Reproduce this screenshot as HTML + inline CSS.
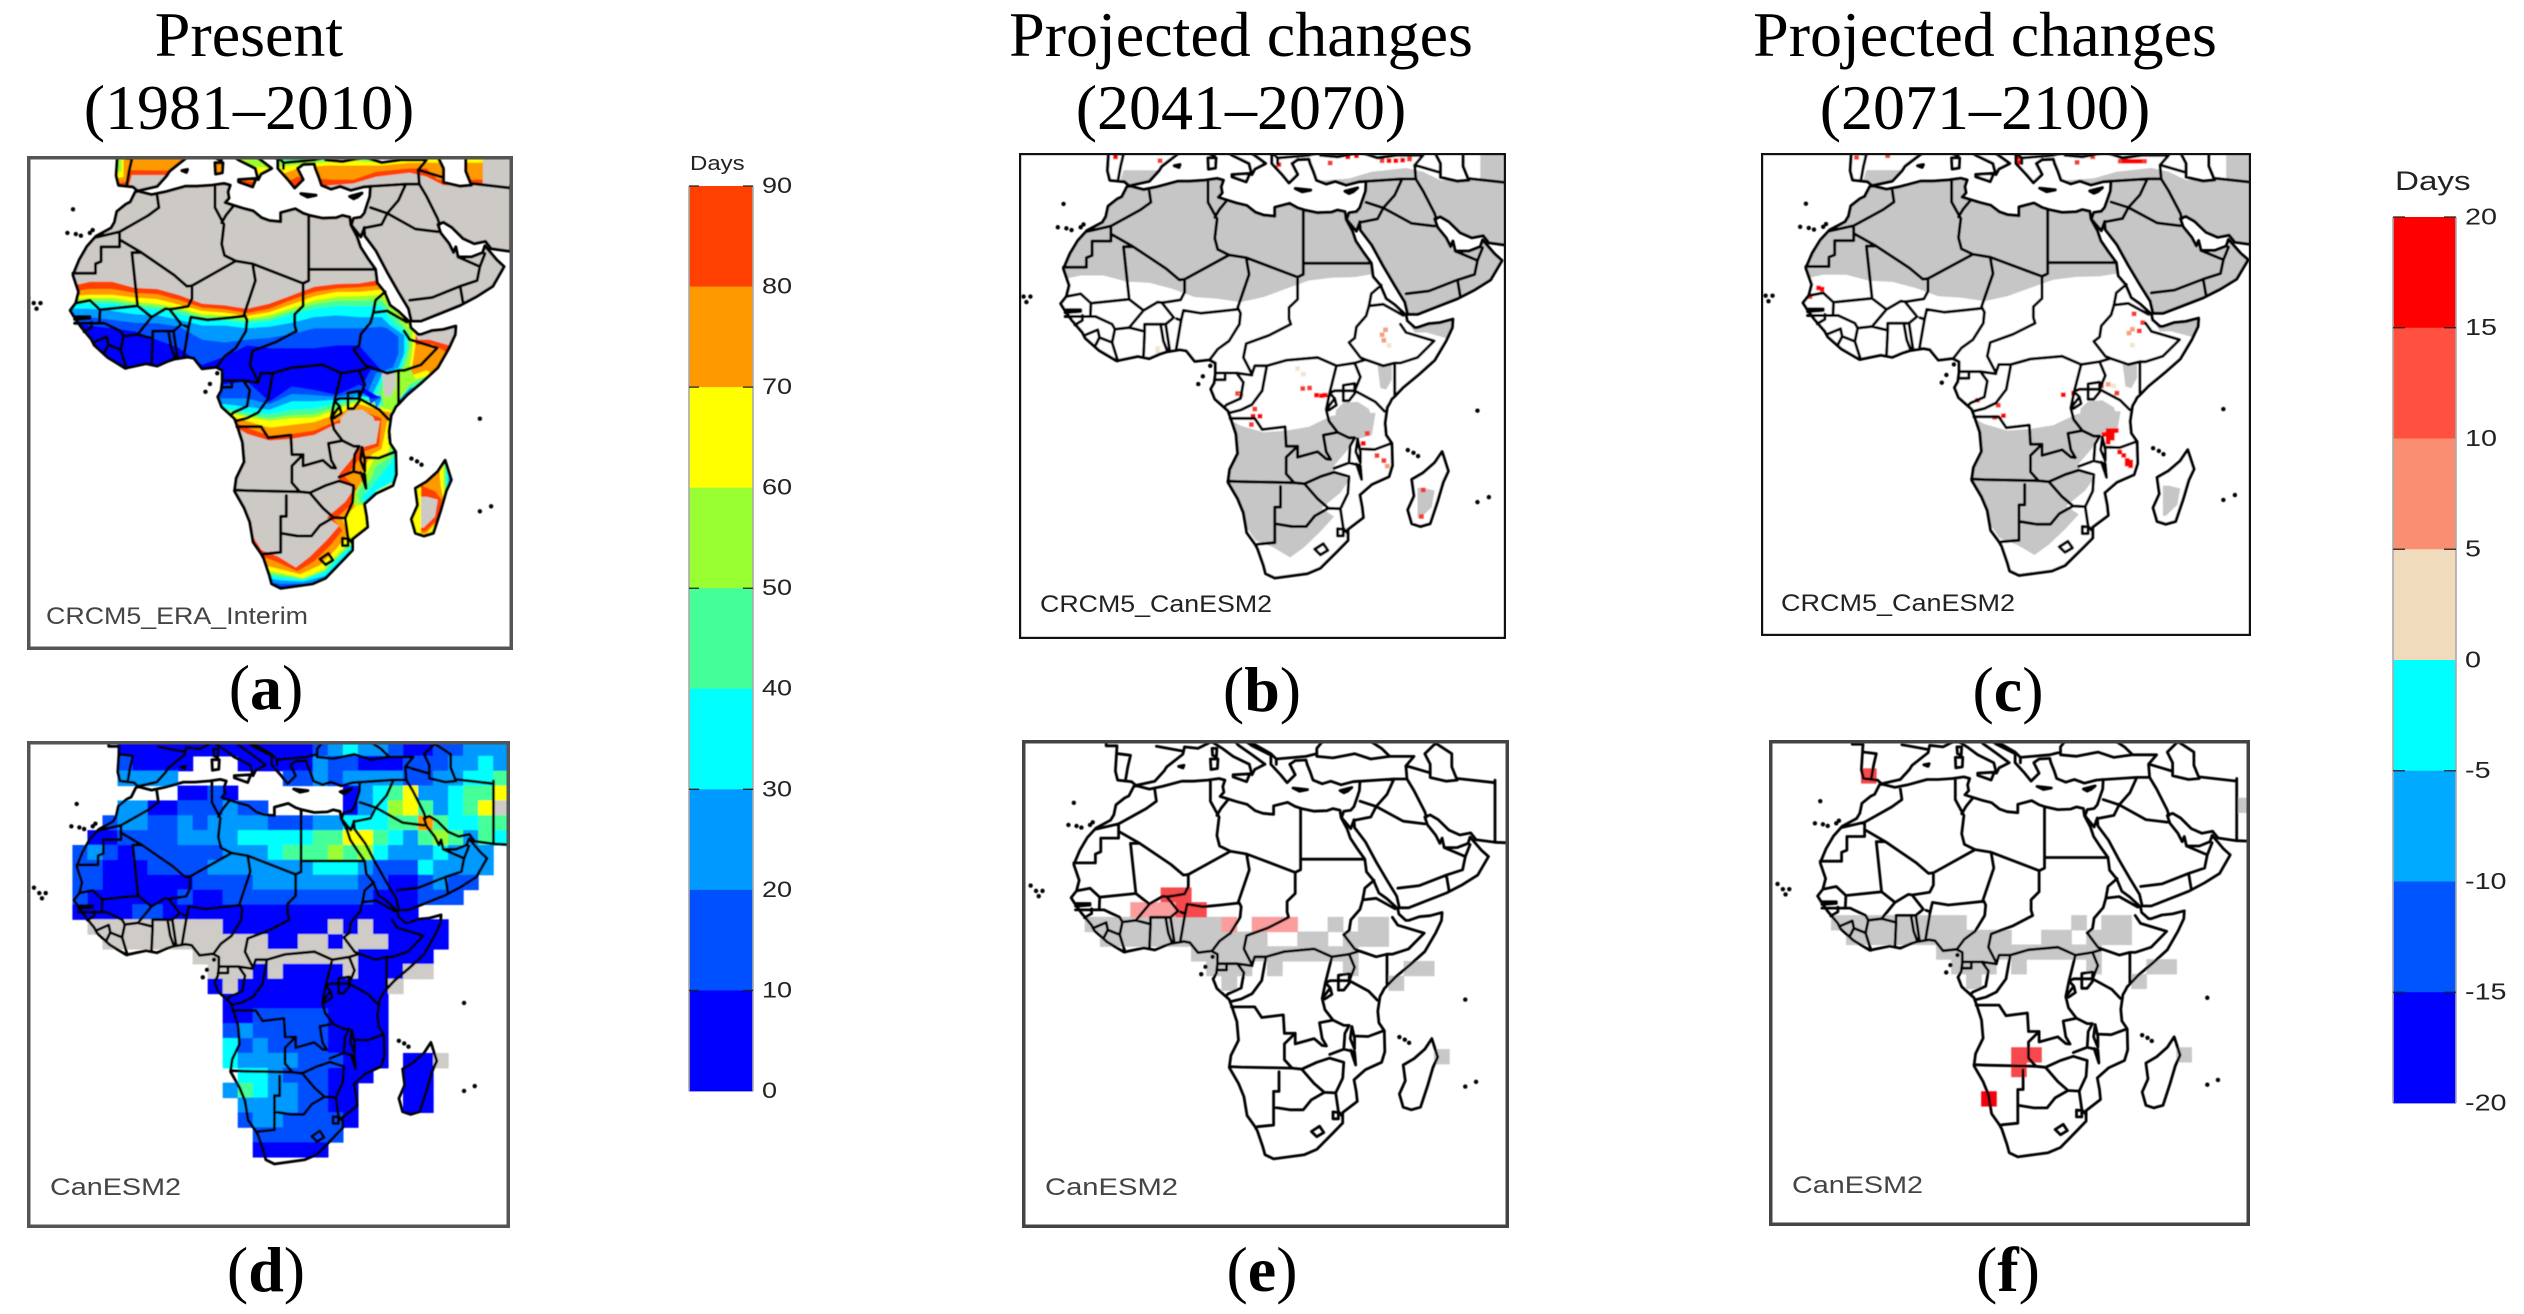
<!DOCTYPE html>
<html lang="en">
<head>
<meta charset="utf-8">
<title>Projected changes in days across Africa</title>
<style>
html,body{margin:0;padding:0;background:#fff;}
#figure{display:block;width:2524px;height:1314px;background:#fff;}
.head{font-family:"Liberation Serif",serif;font-size:64px;fill:#000;text-anchor:middle;}
.tag{font-family:"Liberation Serif",serif;font-size:64px;fill:#000;text-anchor:middle;}
.tag tspan{font-weight:bold;}
.model{font-family:"Liberation Sans",sans-serif;font-size:24px;}
.unit,.tick{font-family:"Liberation Sans",sans-serif;fill:#222;}
</style>
</head>
<body>
<svg id="figure" xmlns="http://www.w3.org/2000/svg" width="2524" height="1314" viewBox="0 0 2524 1314">
  <g id="maps"></g>
  <g id="bars"></g>
  <g>
    <text class="head" x="249" y="56">Present</text>
    <text class="head" x="249" y="129">(1981–2010)</text>
    <text class="head" x="1241" y="56">Projected changes</text>
    <text class="head" x="1241" y="129">(2041–2070)</text>
    <text class="head" x="1985" y="56">Projected changes</text>
    <text class="head" x="1985" y="129">(2071–2100)</text>
  </g>
  <g>
    <text class="tag" x="266" y="709">(<tspan>a</tspan>)</text>
    <text class="tag" x="1262" y="711">(<tspan>b</tspan>)</text>
    <text class="tag" x="2008" y="711">(<tspan>c</tspan>)</text>
    <text class="tag" x="266" y="1291">(<tspan>d</tspan>)</text>
    <text class="tag" x="1262" y="1291">(<tspan>e</tspan>)</text>
    <text class="tag" x="2008" y="1291">(<tspan>f</tspan>)</text>
  </g>
  <g>
    <text class="model" x="46" y="624" textLength="262" lengthAdjust="spacingAndGlyphs" fill="#444">CRCM5_ERA_Interim</text>
    <text class="model" x="1040" y="612" textLength="232" lengthAdjust="spacingAndGlyphs" fill="#222">CRCM5_CanESM2</text>
    <text class="model" x="1781" y="611" textLength="234" lengthAdjust="spacingAndGlyphs" fill="#222">CRCM5_CanESM2</text>
    <text class="model" x="50" y="1195" textLength="131" lengthAdjust="spacingAndGlyphs" fill="#444">CanESM2</text>
    <text class="model" x="1045" y="1195" textLength="133" lengthAdjust="spacingAndGlyphs" fill="#444">CanESM2</text>
    <text class="model" x="1792" y="1193" textLength="131" lengthAdjust="spacingAndGlyphs" fill="#444">CanESM2</text>
  </g>
</svg>
<script>
/* ---------- colour-bar data ---------- */
const daysTickLabels = ["90","80","70","60","50","40","30","20","10","0"];
const daysTickValues = [90,80,70,60,50,40,30,20,10,0];
const daysBandColors = ["#ff4000","#ff9900","#ffff00","#99ff33","#44ff99","#00ffff","#0099ff","#0050ff","#0000ff"];
const changeTickLabels = ["20","15","10","5","0","-5","-10","-15","-20"];
const changeTickValues = [20,15,10,5,0,-5,-10,-15,-20];
const changeBandColors = ["#ff0000","#ff5040","#fa8e72","#f0dcbc","#00ffff","#00aaff","#0055ff","#0000ff"];

/* ---------- geography (longitude / latitude in degrees) ---------- */
const africaCoast = [[-5.9,35.8],[-5.3,35.9],[-3,35.3],[-0.6,35.8],[3,36.8],[5.1,36.8],[7.8,37],[9.9,37.3],[11,37],[10.6,35.8],[10.8,34.7],[10.1,33.9],[11,33.6],[13.2,32.9],[15.1,32.4],[16.6,31.2],[18,30.7],[20,30.5],[20,32.1],[22.6,32.8],[24,32],[25.2,31.6],[27.5,31.1],[29.9,31.2],[31,31.6],[32.3,31.3],[32.5,29.9],[33.6,27.8],[34.2,26],[35.5,24],[36.9,22],[37.2,19.6],[38.5,18],[39.5,15.6],[41,14.5],[43,12.6],[43.2,11.6],[44.5,10.4],[45,10.4],[47,11.1],[49,11.3],[51.2,11.9],[51.1,10.4],[50,8],[48,4.5],[45.3,2],[42.5,-0.4],[41,-2],[40.5,-2.5],[40.1,-3.3],[39.7,-4],[39.3,-6.8],[39.5,-9],[40.5,-10.5],[40.6,-14.5],[40,-16.5],[37,-17.9],[34.9,-19.8],[35.3,-22],[35.5,-23.9],[32.8,-26],[32.8,-28],[31,-29.9],[28,-33],[25.7,-34],[20,-34.8],[18.4,-34],[18,-32.5],[17,-29.5],[16.5,-28.6],[15.1,-26.6],[14.5,-23],[13.5,-20.5],[11.8,-17.5],[12.1,-15.2],[13.5,-12.3],[13.2,-8.8],[12.3,-6],[11.8,-4.6],[9.5,-2.5],[8.8,-0.7],[9.4,0.4],[9.6,2],[9.6,4],[8.5,4.6],[6,4.3],[4.5,6.2],[3.4,6.4],[1,6],[-0.2,5.6],[-2,4.8],[-4,5.2],[-7.7,4.4],[-10.8,6.3],[-13.2,8.5],[-13.7,9.5],[-15.6,11.8],[-16.7,13.4],[-17.5,14.7],[-16.5,16],[-16,18],[-17,21],[-15.9,23.7],[-14.5,26.1],[-12.9,27.9],[-10.2,29.4],[-9.6,30.4],[-9.2,32.3],[-7.6,33.6],[-6.8,34]];
const madagascarCoast = [[49.3,-12],[50.4,-15.5],[49.5,-17.5],[48.5,-21],[47.2,-25],[45.5,-25.5],[44,-25],[43.3,-22.5],[44.4,-20],[44,-17],[46,-15.8],[48,-14]];
const eurasiaCoast = [[-9,43.5],[-9.3,38.7],[-8.9,37],[-6.3,36.7],[-5.5,36],[-2,36.8],[-0.3,38.7],[0.2,39.5],[3.2,41.9],[3.5,43.3],[6,43],[8.5,44.3],[10.5,43],[12.5,41.5],[15.5,40],[16,38],[16.5,39],[18.4,40],[16,41.8],[13.5,43.6],[12.3,45],[14,45],[16,43.5],[19.5,41.7],[19.5,40],[21.3,38],[22.5,36.5],[24,38],[23,40],[24,40.7],[26,40.8],[26.2,40],[26.8,38.5],[27.3,37],[29,36.3],[30.6,36.8],[32.5,36.1],[34.7,36.7],[36,36.8],[35.9,35],[35.5,33.8],[34.9,32],[34.3,31.3],[33,31.1],[32.6,29.9],[34.3,27.8],[34.9,29.5],[35,28],[37,25.3],[39,21.5],[41,18],[42.8,15],[43.3,12.8],[45,12.8],[48,14],[52,15.6],[55,17.2],[57.8,19],[59.8,22.5],[58.5,23.7],[56.4,26.2],[56,25],[54,24.2],[51.6,24.2],[51.2,26],[50.8,25],[50,26.6],[48.5,28.5],[48,30],[49,30.4],[50.5,29.5],[52.5,27.5],[54.5,26.6],[56.5,27],[57.5,25.7],[61,25.2],[66,25],[66,48],[-11,48],[-11,43.5]];
const blackSea = [[28,41.5],[31,41.2],[35,42],[38,41],[41.5,41.5],[40,43],[37,45],[33,45],[30,45.5],[28,43]];
const caspianSea = [[49,37.5],[52,36.8],[54,37],[53,39.5],[53,42],[50,44],[48,42],[49,40]];
const smallIslands = [
  [[12.5,38],[15.6,38.2],[15,36.7],[12.5,37.6]],
  [[8.3,41],[9.7,41],[9.6,39.2],[8.4,39]],
  [[8.6,43],[9.5,43],[9.4,41.4],[8.7,41.7]],
  [[23.6,35.5],[26.3,35.2],[24.8,34.9]],
  [[32.3,35],[34.5,35.6],[33.7,34.9],[33,34.6]],
  [[2.4,39.6],[3.4,39.8],[3.2,39.3]]
];
const islandDotLons = [-18,-16.5,-15.6,-14,-13.5,-25,-24,-23.5,-22.8,-17,43.3,44.3,45.1,57.5,55.5,55.5,6.6,7.4,8.7];
const islandDotLats = [28.5,28.3,28,28.5,29,17,16,15,16,32.7,-11.7,-12.2,-12.8,-20.2,-21.1,-4.6,0.2,1.6,3.5];
const borderLines = [
  [[-2,35.1],[-1.7,33],[-3.6,31.6],[-8.7,28.7],[-13,27.7]],
  [[-8.7,28.7],[-8.7,26],[-12,26],[-12,23.4],[-13,23],[-13,21.3],[-17,21.3]],
  [[-8.7,27.3],[-4.8,25],[-6.5,25],[-5.5,15.5],[-12.2,14.8],[-14,16.5],[-16.5,16]],
  [[-8.7,27.3],[-4.8,25],[1,21],[3.3,19],[4.2,19.1],[4.2,16.8],[3.5,15.4],[1,15],[0.2,14.9],[2.3,12.2],[0.9,11],[0,11],[-2.8,11],[-2.8,9.7],[-5.5,10.4],[-8,10.1],[-8.5,7.7],[-7.5,4.4]],
  [[4.2,19.1],[12,23.5],[15,23],[24,19.5],[24,15.5],[22.5,14],[22.5,12],[22.8,11],[19,9],[15,7.5],[14.5,5],[16,2],[16.5,3.5],[18.6,3.5],[22,4.5],[27.5,5],[30.8,3.5],[34,4],[35.9,4.6],[39,3.5],[41,4],[41,-1.7]],
  [[12,23.5],[10,24.5],[9.5,26.5],[9.9,30],[8.3,33],[8.3,36.9]],
  [[11.5,33.2],[10.3,31.7],[9.5,30.3]],
  [[25,31.6],[25,22],[36.9,22]],
  [[25,22],[25,20],[24,19.5]],
  [[15,23],[15.5,20],[13.5,14],[14,13],[13.8,11],[12,8],[10,6.5],[8.6,4.6]],
  [[2.8,12],[3.6,11.7],[4,13.5],[7,13],[10,13.3],[13.6,13.7]],
  [[-5.5,15.5],[-3,13.5],[-0.5,15],[0.2,14.9]],
  [[-5.5,10.4],[-3,13.5]],
  [[3.6,11.7],[2.7,6.3]],
  [[0.9,11],[1.6,6.3]],
  [[0,11],[0.5,8],[1.2,6.1]],
  [[-2.8,9.7],[-3,5.1]],
  [[-16.7,12.4],[-12.3,12.4],[-12.2,14.8]],
  [[-12.3,12.4],[-11.4,12.4],[-8.5,11],[-8,10.1]],
  [[-16.7,13.6],[-14,13.6],[-14,13.3],[-16.7,13.1]],
  [[-13.7,12.6],[-13.7,11.7],[-15,10.9]],
  [[-13.3,9],[-11,10],[-10.7,8.6],[-11.5,7]],
  [[-10.7,8.6],[-8.5,7.7]],
  [[9.8,2.2],[13.3,2.2],[16,1.8]],
  [[11.3,2.2],[11.3,1],[9.6,1]],
  [[13.3,2.2],[14.5,0.5],[14,-2.4],[11.6,-3.5],[11.2,-3.9]],
  [[18.6,3.5],[17.8,-1],[16,-3.5],[14,-4.5],[12,-5]],
  [[38.6,18],[36.9,16.5],[36.5,14.3],[36,12.5],[34.3,10.5],[34,8.5],[33,7.7],[35,5],[35.9,4.6]],
  [[36.5,14.3],[39,14.6],[42.5,12.6]],
  [[42,11],[43,9.5],[47.9,8],[45,5],[42,4],[41,4]],
  [[34,4],[35,1.5],[34,-1],[37.6,-3],[39.2,-4.7]],
  [[30.8,3.5],[29.6,-1.4],[29,-4.4],[29.5,-6.5],[31,-8.5],[33,-9.5],[34,-9.5],[33.2,-11],[33,-14],[35,-14.5],[35.2,-17],[34.3,-14.2]],
  [[29,-4.4],[30.5,-2.4],[29.6,-1.4],[30.5,-1],[34,-1]],
  [[30.5,-2.4],[30.8,-3.6],[29.5,-4.5]],
  [[22,-11],[24,-11],[24,-13],[27.5,-12],[29,-13.3],[29.8,-13.4],[29,-12],[28.5,-9],[31,-8.5]],
  [[12.2,-6],[16.5,-6],[17.8,-8],[21.8,-7.5],[22,-11]],
  [[24,-11],[22,-13],[22,-16],[23.4,-17.6]],
  [[11.8,-17.3],[14,-17.4],[23.4,-17.6],[25.2,-17.8],[28,-16.5],[30.4,-15.7],[33,-16.5],[32.8,-19.5],[31.5,-22.3],[32,-25.8],[32.8,-26.8]],
  [[21,-18.3],[21,-22],[20,-22],[20,-28.4],[17,-28.7]],
  [[20,-25],[23,-25.5],[25.5,-25.5],[27,-23.6],[29.4,-22.2],[31.5,-22.3]],
  [[25.2,-17.8],[27.5,-20.5],[29.4,-22.2]],
  [[30.4,-15],[33,-14]],
  [[34.9,-11.5],[37.5,-11.6],[40.4,-10.5]],
  [[34.5,-9.7],[34.2,-12],[35,-14],[35,-12],[34.5,-9.7]],
  [[27,-29.6],[28.5,-28.6],[29.3,-29.8],[28,-30.6],[27,-29.6]],
  [[31,-25.9],[32,-26],[32,-27.2],[31,-27.2],[31,-25.9]],
  [[32,-2.8],[32,0],[34,0.3],[34,-1.5],[33,-2.8],[32,-2.8]],
  [[35,29.4],[38,30],[39,32],[36,33]],
  [[39,32],[44,29.2],[48,28.7]],
  [[36.2,36.8],[42.3,37.2],[41,34.3],[39,32]],
  [[44.5,39.7],[44.7,37.2],[46,35],[48,31],[48.3,30]],
  [[42.3,37.2],[44.7,37.2]],
  [[43,16.5],[47,17],[52,19],[55,20],[55.5,22.5],[56.4,24.8]],
  [[52.5,16],[52,19]],
  [[51.6,24.2],[55.5,22.5]],
  [[61,25.2],[61,31],[61,37]],
  [[54,37.3],[61,36.5]],
  [[-1.7,43.4],[3.2,42.5]],
  [[-8.8,42],[-6.5,41.7],[-7,39.5],[-7.4,37.2]],
  [[13.5,45.5],[19.5,42],[20.5,41],[20.5,40]],
  [[20.5,41],[26,41.5],[28,42]],
  [[41.5,41.5],[46,41.5],[44.5,39.7]],
  [[48.9,38.4],[44.6,39.7]]
];

/* ---------- panel (a) days contours: band edges as latitudes at given longitudes ---------- */
const beltLons = [-18,-14,-10,-6,-2,2,6,10,14,18,22,26,30,34,38];
const beltNorth90 = [18.9,19.8,19.8,18.7,18.5,17.4,15.9,15.6,15.0,15.9,17.4,18.9,19.4,19.5,20.2];
const beltNorth80 = [18.0,18.5,18.5,17.8,17.6,16.5,15.2,14.9,14.2,15.0,16.6,18.0,18.6,18.8,19.2];
const beltNorth70 = [17.2,17.5,17.5,17.0,16.7,15.7,14.6,14.3,13.7,14.4,15.8,17.2,18.0,18.0,18.4];
const beltNorth60 = [16.6,16.9,16.9,16.2,15.9,15.1,14.0,13.8,13.2,13.8,15.1,16.4,17.1,17.2,17.5];
const beltNorth50 = [16.2,16.5,16.4,15.8,15.4,14.7,13.6,13.4,12.9,13.3,14.6,15.8,16.4,16.4,16.5];
const beltNorth40 = [15.8,16.0,15.9,15.3,14.9,14.1,13.1,12.9,12.4,12.8,14.0,15.0,15.5,15.4,15.5];
const beltNorth30 = [15.0,15.0,14.6,14.0,13.8,13.0,12.0,12.0,11.5,11.8,12.5,13.5,13.8,13.5,13.5];
const beltNorth20 = [13.8,13.5,13.0,12.5,12.4,11.8,9.5,9,9.5,9.8,10.5,11.5,11.5,11.5,11.8];
const beltNorth10 = [12.5,12,11.5,11,9.5,8,5,6.5,8.5,8,8,8,8.5,8.5,4];
const beltSouthLons = [38,34,30,26,22,18,14,10];
const beltSouth90 = [-5,-5,-5.5,-7.5,-8.2,-8.5,-7.3,-5];
const beltSouth80 = [-4.5,-3,-5,-6.7,-7.3,-7.6,-6.2,-4.5];
const beltSouth70 = [-3.2,-2,-3.8,-5.2,-5.7,-6.2,-5,-4];
const beltSouth60 = [-2.6,-1.5,-3,-4.4,-4.5,-5,-4.3,-3.5];
const beltSouth50 = [-2,-1.2,-2.5,-3.8,-4,-4.5,-4,-3];
const beltSouth40 = [-1.5,-0.8,-1.8,-2.8,-3,-3.8,-3.5,-2.8];
const beltSouth30 = [-1,-0.5,-1.2,-1.5,-1.5,-3,-2.5,-2];
const beltSouth20 = [-0.6,0,-0.7,-0.4,-0.2,-2,-1,-1];
const beltSouth10 = [-1,1.4,-0.4,0.5,1.1,-1.6,2,1.5];
const beltEast90 = [[39,17],[43,12],[44.5,9.5],[46.5,9.5],[50,8.5],[50,2],[43,-5]];
const beltEast80 = [[38.5,16.5],[42,12],[43,8.5],[47,8.7],[50,7],[48.5,2],[43,-5]];
const beltEast70 = [[41,15],[44,11],[44,8.5],[43.5,5],[43,3],[46,4],[47.5,3],[43,-4]];
const beltEast60 = [[41,14],[43.5,11],[43.5,8],[43,4.5],[44,2.5],[46,3],[42,-4]];
const beltEast50 = [[41,13],[43,10.5],[43,8],[42,4.5],[39,3],[38,0],[38.5,-3]];
const beltEast40 = [[40,12.5],[42.5,10.5],[42.5,7.5],[41.5,4.5],[38.5,3],[37,0],[37.5,-3]];
const beltEast30 = [[39.5,12],[42,10.3],[42,7],[41,4.5],[38,3.2],[36.5,0],[37,-3]];
const beltEast20 = [[39,11.5],[41,10],[41,7],[40,4.5],[37,3.5],[35.5,0],[36,-2]];
const beltEast10 = [[36,4],[35,2],[34.5,0],[36,-1]];

const extra90 = [
  [[-10,46],[-10,36.5],[-7,37],[-6.5,38.8],[0.5,38.8],[1,37],[12,37],[20,36],[24,36.7],[29,37],[33,37.3],[37,38.5],[43,39.2],[46,38.5],[49,37],[56,37],[56,46]],
  [[38,-3],[37,-9],[33.8,-9.9],[32.5,-12],[30.4,-14.5],[30.4,-15.7],[33.1,-17],[31.5,-19.4],[28.2,-22.2],[30.4,-23.7],[28.2,-26.2],[25.2,-29.2],[22.7,-31.1],[19.6,-29.2],[16.6,-28],[15,-25.5],[13,-25],[13,-40],[45,-40],[45,-2]],
  [[46,-11],[52,-11],[52,-27],[43,-27],[43,-24],[45.5,-24],[47.5,-22],[48,-19],[46,-18.5],[43,-18.5],[43,-15]]
];
const extra80 = [
  [[-10,46],[-10,37.2],[-7.6,37.6],[-7,39.7],[0,39.6],[3,40],[12,38],[20,37],[23,38.5],[29,38],[33,38],[37,39.4],[43,40],[46,40],[48,38],[56,38],[56,46]],
  [[38,-4],[37.5,-9.5],[34.8,-10.5],[33.5,-12.5],[31.5,-15],[33.8,-17.2],[32.5,-20],[29.5,-22.7],[31,-24.5],[29,-27],[26,-30],[23,-31.8],[19.5,-30.2],[16.8,-29.2],[13,-29],[13,-40],[45,-40],[45,-3]],
  [[47,-11],[52,-11],[52,-27],[43,-27],[43,-24.7],[45.8,-24.7],[48,-22.5],[48.7,-19],[47.5,-17.5],[45,-16.5],[47,-14]]
];
const extra70 = [
  [[-10,46],[-10,38],[-8,38.5],[-8,41.5],[-5,42],[0,42.2],[10,42],[14,39],[19,38.5],[23,40],[28,40.5],[33,40.5],[38,40.5],[43,41],[56,41],[56,46]],
  [[39,-5],[38,-10],[36.2,-11],[34.5,-14],[34.5,-17.2],[33.5,-20],[31,-22.5],[32,-25],[30,-27.7],[27,-30.7],[23.5,-32.3],[19.5,-31.3],[17,-30.7],[13,-31],[13,-40],[45,-40],[45,-4]],
  [[48.3,-11],[52,-11],[52,-27],[44,-27],[44,-25.2],[46,-25],[48.3,-22.5],[49,-19],[48.5,-16.5],[48.3,-14]]
];
const extra60 = [
  [[-10,46],[-10,39],[-8.3,39.5],[-8.3,42],[0,43],[11,43],[15,40.5],[18,40],[22,40.5],[27,41],[33,41.3],[38,41],[44,41.7],[56,42],[56,46]],
  [[40.5,-6],[39,-11],[36.5,-12],[35,-15],[33.3,-17.5],[33,-20],[35.5,-20],[37,-17],[41,-15],[42,-8]],
  [[16.5,-31.5],[19.5,-32],[24,-33],[27.5,-31.5],[30.5,-28.3],[32.5,-26.5],[34,-27],[34,-35],[20,-38],[14,-35]],
  [[49,-11],[52,-11],[52,-27],[46,-27],[46.5,-25],[48.5,-22.5],[49.2,-19],[49,-16]]
];
const extra50 = [
  [[0,46],[0,43.5],[12,43.5],[17,41.5],[21,41],[30,41.5],[37,41.5],[41,41.5],[56,43],[56,46]],
  [[40.5,-7],[39.5,-11.5],[37,-13],[36,-15.5],[33.8,-17.5],[34,-19.7],[35.5,-19.5],[37,-17],[41,-15],[42,-8]],
  [[46,3],[43,1.5],[41,-1.5],[40,-4],[39,-6],[42,-5],[47,2]],
  [[16.8,-31.9],[19.5,-32.4],[24,-33.1],[27.8,-31.7],[30.8,-28.5],[32.8,-26.8],[34,-28],[34,-35],[20,-38],[14,-35]],
  [[49.2,-11],[52,-11],[52,-27],[47,-27],[47,-25],[48.8,-22.3],[49.4,-19],[49.3,-15.5]]
];
const extra40 = [
  [[5,46],[5,44],[14,44],[20,42],[30,42],[36,42],[56,44],[56,46]],
  [[41,-10],[39.5,-12.5],[37.5,-15],[36,-17],[34.5,-18.5],[35,-19.5],[37,-17.5],[41,-15.5]],
  [[47,2.5],[43.5,1],[41.5,-1.8],[40.4,-4],[39.3,-7],[41,-7],[47,1]],
  [[17,-32.2],[19.5,-32.8],[24,-33.3],[28,-31.8],[31,-28.7],[33,-27],[34,-30],[20,-38],[15,-35]],
  [[49.5,-11],[52,-11],[52,-27],[47.3,-27],[47.3,-25],[49,-22],[49.6,-18.8],[49.6,-15.5]]
];
const extra30 = [
  [[8,46],[10,44.5],[20,43],[56,45],[56,46]],
  [[40.6,-3],[39.6,-5],[39,-8],[40,-10],[41,-10],[41,-3]],
  [[46.5,2],[43,0.8],[41,-1.3],[40,-3],[39.3,-4],[40,-5],[42,-3],[47,1]],
  [[17.5,-33],[20,-33.4],[24,-33.6],[28,-32.6],[31,-29.5],[32,-28.8],[34,-30],[20,-38],[15,-36]],
  [[49.8,-11],[52,-11],[52,-25],[48,-25],[49.2,-22],[49.8,-18.5],[49.9,-15.5]]
];
const extra20 = [
  [[18,-33.7],[20,-34],[25,-34],[28,-33.2],[30,-31.8],[34,-31],[20,-38]],
  [[50,-12],[52,-12],[52,-24],[48.5,-24],[49.3,-21],[49.9,-18],[50.1,-15.5]]
];
const extra10 = [
  [[19.5,-34.5],[21,-34.4],[25,-34.2],[28,-33.7],[30,-33],[20,-38]],
  [[50.2,-14],[52,-14],[52,-24],[48.6,-23],[49.6,-20],[50.1,-17]]
];
const dryPatches = [
  [[30.7,-4.5],[32,-3.2],[34.5,-3],[36.5,-4.3],[37,-6],[36.5,-8],[34.5,-9.3],[32,-9],[30.5,-7]],
  [[38,3.5],[40.5,3.8],[40.5,1],[39.5,-0.8],[38.5,-0.5]]
];

/* ---------- CanESM2 grid: days per 2.8125-degree cell. _ = none, G = masked ---------- */
const _ = null, G = -99;
const canesmDays = [
 [_,_,_,5,5,5,5,5,5,5,5,5,5,5,5,5,15,25,35,25,25,15,5,5,15,15,25,25,25],
 [_,_,_,15,5,5,5,5,_,_,_,5,5,5,5,5,25,15,15,5,5,5,15,15,15,25,25,35,25],
 [_,_,_,25,25,25,25,_,_,_,_,_,_,_,15,15,25,15,25,25,25,25,15,15,25,25,35,35,45],
 [_,_,_,_,_,_,_,5,5,15,5,_,_,_,_,_,_,_,5,25,35,45,65,25,25,35,45,45,65],
 [_,_,_,25,25,5,5,15,15,15,25,15,15,_,_,_,_,_,5,25,35,55,65,45,25,35,45,65,G],
 [_,_,15,25,25,15,15,25,15,25,25,25,25,15,15,15,25,25,35,35,35,45,45,75,45,35,35,45,45],
 [_,5,5,15,15,15,15,25,25,25,25,35,35,35,35,35,45,45,65,65,45,35,25,45,55,45,25,45,35],
 [15,25,15,5,15,15,15,15,15,15,25,25,25,35,45,45,45,55,45,55,35,25,25,25,35,25,25,25,_],
 [15,15,5,5,5,15,15,15,15,25,25,25,25,25,25,25,35,35,35,25,15,15,15,35,25,25,25,25,_],
 [15,15,5,5,5,5,5,5,15,15,15,15,25,25,25,25,25,25,25,15,15,5,5,15,25,15,15,_,_],
 [15,5,5,5,5,5,5,15,5,5,15,15,15,15,15,15,15,15,15,15,5,5,5,15,15,15,_,_,_],
 [5,5,5,5,15,15,5,5,5,5,5,5,5,5,5,5,5,5,5,5,5,5,5,_,_,_,_,_,_],
 [_,G,G,G,G,G,G,G,G,G,5,5,5,5,5,5,5,G,5,G,5,5,5,5,5,_,_,_,_],
 [_,_,G,G,G,G,G,G,G,G,G,G,G,5,5,G,G,5,G,G,G,5,5,5,5,_,_,_,_],
 [_,_,_,_,_,_,_,_,G,G,G,G,G,G,G,G,G,G,G,5,5,5,5,5,_,_,_,_,_],
 [_,_,_,_,_,_,_,_,_,G,G,G,5,G,5,5,5,5,G,5,5,5,G,G,_,_,_,_,_],
 [_,_,_,_,_,_,_,_,_,5,G,5,5,5,5,5,5,5,5,5,5,G,_,_,_,_,_,_,_],
 [_,_,_,_,_,_,_,_,_,_,5,5,5,5,5,5,5,5,5,5,5,_,_,_,_,_,_,_,_],
 [_,_,_,_,_,_,_,_,_,_,5,5,15,15,15,15,15,5,5,5,5,_,_,_,_,_,_,_,_],
 [_,_,_,_,_,_,_,_,_,_,15,25,15,15,15,15,15,5,5,5,5,_,_,_,_,_,_,_,_],
 [_,_,_,_,_,_,_,_,_,_,35,15,25,15,15,15,15,5,5,5,5,_,_,_,_,_,_,_,_],
 [_,_,_,_,_,_,_,_,_,_,35,25,25,25,25,15,15,15,5,5,5,_,5,5,G,_,_,_,_],
 [_,_,_,_,_,_,_,_,_,_,_,35,35,25,15,15,15,5,5,5,_,_,5,5,_,_,_,_,_],
 [_,_,_,_,_,_,_,_,_,_,25,45,35,25,25,15,15,5,5,_,_,_,5,5,_,_,_,_,_],
 [_,_,_,_,_,_,_,_,_,_,_,25,25,25,25,15,15,5,5,_,_,_,5,5,_,_,_,_,_],
 [_,_,_,_,_,_,_,_,_,_,_,15,25,25,15,15,15,15,5,_,_,_,_,_,_,_,_,_,_],
 [_,_,_,_,_,_,_,_,_,_,_,_,15,15,15,15,15,15,_,_,_,_,_,_,_,_,_,_,_],
 [_,_,_,_,_,_,_,_,_,_,_,_,5,5,5,5,5,_,_,_,_,_,_,_,_,_,_,_,_]
];
const maskRowsCanesm = [12,12,12,12,12,12,12,12,12,12,12,12,13,13,13,13,13,13,13,13,13,13,13,13,13,13,13,13,14,14,14,14,14,14,14,14,14,14,14,15,15,15,15,15,15,15,16,16,21];
const maskColsCanesm = [1,2,3,4,5,6,7,8,9,17,19,20,2,3,4,5,6,7,8,9,10,11,12,15,16,18,19,20,8,9,10,11,12,13,14,15,16,17,18,9,10,11,13,18,22,23,10,21,24];
const midChangeRows = [10,10,11,11,11,11,11,12,12,12,12];
const midChangeCols = [6,7,4,5,6,7,8,10,12,13,14];
const midChangeDays = [14,14,7,7,7,14,14,7,7,7,7];
const endChangeRows = [2,21,21,22,24];
const endChangeCols = [3,13,14,13,11];
const endChangeDays = [13,13,13,13,18];

/* ---------- CRCM5 projected change specks ---------- */
const midSpeckLons = [38.8,40,41.2,42.4,43.6,32.8,34.3,29.7,-7.9,-0.1,20.7,39.4,38.8,39.1,40,24.9,26.1,27.3,28.2,28.8,13.5,14.1,16.5,16.2,17.4,15.9,35.5,36.2,37.9,39.1,39.7,46,45.7,-0.5,-0.5,24,25];
const midSpeckLats = [40.5,40.5,40.5,40.6,40.8,41.2,41.4,40.1,41.2,40.5,39.8,10,9.1,8.1,7.2,-0.6,-0.5,-1.8,-1.9,-1.8,-1.5,-1.8,-4.3,-5.6,-5.6,-7.1,-10.5,-8.7,-12.7,-13.6,-14.6,-18.9,-23.7,5.8,6.6,3,2];
const midSpeckDays = [14,16,16,16,14,17,17,14,17,14,17,7,7,7,3,12,12,17,17,17,12,7,14,17,17,14,18,14,12,12,7,14,14,3,3,3,3];
const endSpeckLons = [37.6,38.3,39,39.7,40.4,41.1,41.8,32.8,30.1,20,20.2,-2.8,-8.2,-14.8,-14.2,-16.3,39.1,39.7,40,41.5,40.9,39.7,35.5,34.3,36.4,37,27.7,29.5,12.8,16.4,17.3,15.8,35.5,36.2,36.9,35.5,36.2,34.8,35.5,36.2,35.5,38.2,38.8,39.4,38.8,39.4,37.5];
const endSpeckLats = [40.4,40.4,40.4,40.4,40.4,40.4,40.4,41.2,40.2,41.1,40.2,41.4,41.1,17.4,17.2,15.8,9.2,9.9,12.7,11.1,9.6,7,-0.1,-0.4,-0.4,-1.7,-2,-1.7,-3,-3.9,-5.8,-6.1,-8.5,-8.5,-8.5,-9.2,-9.2,-9.2,-9.9,-9.9,-10.6,-13,-13.9,-14.2,-14.6,-14.9,-12.4];
const endSpeckDays = [14,17,17,17,17,17,14,14,12,17,17,14,14,17,17,14,7,7,14,14,12,3,7,12,3,12,17,17,14,14,17,14,18,18,18,18,18,18,18,18,18,18,18,18,18,18,18];

/* ---------- helpers ---------- */
const SVGNS = "http://www.w3.org/2000/svg";
function make(tag, parent, attrs) {
  const node = document.createElementNS(SVGNS, tag);
  for (const k in attrs) node.setAttribute(k, attrs[k]);
  parent.appendChild(node);
  return node;
}
function beltPolygon(north, east, south) {
  const pts = [[-24, north[0]]];
  beltLons.forEach((lon, i) => pts.push([lon, north[i]]));
  east.forEach(p => pts.push(p));
  beltSouthLons.forEach((lon, i) => pts.push([lon, south[i]]));
  pts.push([-24, south[south.length - 1]]);
  return pts;
}
function contourSet(north, east, south, extras) {
  return [beltPolygon(north, east, south)].concat(extras);
}
const contourLevels = [
  contourSet(beltNorth90, beltEast90, beltSouth90, extra90),
  contourSet(beltNorth80, beltEast80, beltSouth80, extra80),
  contourSet(beltNorth70, beltEast70, beltSouth70, extra70),
  contourSet(beltNorth60, beltEast60, beltSouth60, extra60),
  contourSet(beltNorth50, beltEast50, beltSouth50, extra50),
  contourSet(beltNorth40, beltEast40, beltSouth40, extra40),
  contourSet(beltNorth30, beltEast30, beltSouth30, extra30),
  contourSet(beltNorth20, beltEast20, beltSouth20, extra20),
  contourSet(beltNorth10, beltEast10, beltSouth10, extra10)
];
function daysColor(v) {
  const idx = daysTickValues.findIndex((t, i) => i < daysBandColors.length && v <= t && v > daysTickValues[i + 1]);
  return idx < 0 ? "#cfcbc7" : daysBandColors[idx];
}
function speckColor(v) {
  if (v >= 15) return "#ff0000";
  if (v >= 10) return "#f53a30";
  if (v >= 5) return "#f7a080";
  return "#f3e4cf";
}
function coarseColor(v) {
  if (v >= 15) return "#f4000c";
  if (v >= 10) return "#f6484e";
  return "#fb9d9d";
}
function cellLon(k) { return -17.8 + 2.8125 * k; }
function cellLat(r) { return 44.5 - 2.785 * r; }

/* ---------- panels ---------- */
const panels = [
  {id:"a", x:27,  y:156, w:486, h:494, lonL:-25.2, lonR:61.4, latT:42.2, latB:-45.8, land:"#cdc9c5", line:3, frame:"#555", fw:3.5, kind:"days"},
  {id:"b", x:1019,y:153, w:487, h:486, lonL:-24.8, lonR:60.5, latT:41.9, latB:-45.8, land:"#c6c6c6", line:3, frame:"#111", fw:2.2, kind:"specks", lons:midSpeckLons, lats:midSpeckLats, vals:midSpeckDays},
  {id:"c", x:1761,y:153, w:490, h:483, lonL:-24.8, lonR:60.3, latT:41.9, latB:-45.8, land:"#c6c6c6", line:3, frame:"#111", fw:2.2, kind:"specks", lons:endSpeckLons, lats:endSpeckLats, vals:endSpeckDays},
  {id:"d", x:27,  y:741, w:483, h:487, lonL:-26.3, lonR:64.1, latT:44.5, latB:-46.8, line:2.8, frame:"#555", fw:3.5, kind:"grid"},
  {id:"e", x:1022,y:740, w:487, h:488, lonL:-26.6, lonR:63.6, latT:44.6, latB:-47.9, line:2.8, frame:"#444", fw:3.5, kind:"mask", rows:midChangeRows, cols:midChangeCols, vals:midChangeDays},
  {id:"f", x:1769,y:740, w:481, h:486, lonL:-26.6, lonR:63.5, latT:44.3, latB:-47.9, line:2.8, frame:"#444", fw:3.5, kind:"mask", rows:endChangeRows, cols:endChangeCols, vals:endChangeDays}
];
const mapsRoot = document.getElementById("maps");
const defs = make("defs", mapsRoot, {});
const soft = make("filter", defs, {id:"soft", x:"-2%", y:"-2%", width:"104%", height:"104%"});
make("feGaussianBlur", soft, {stdDeviation:"0.5"});

panels.forEach(p => {
  const xOf = lon => (lon - p.lonL) / (p.lonR - p.lonL) * p.w;
  const yOf = lat => (p.latT - lat) / (p.latT - p.latB) * p.h;
  const poly = pts => "M" + pts.map(q => xOf(q[0]).toFixed(1) + " " + yOf(q[1]).toFixed(1)).join("L") + "Z";
  const line = pts => "M" + pts.map(q => xOf(q[0]).toFixed(1) + " " + yOf(q[1]).toFixed(1)).join("L");
  const landPath = [africaCoast, madagascarCoast, eurasiaCoast, blackSea, caspianSea].concat(smallIslands).map(poly).join("");

  const panel = make("svg", mapsRoot, {x:p.x, y:p.y, width:p.w, height:p.h, viewBox:"0 0 " + p.w + " " + p.h});
  
  

  const clip = make("clipPath", panel, {id:"land-clip-" + p.id});
  make("path", clip, {d:landPath, "clip-rule":"evenodd"});

  const layer = make("g", panel, {filter:"url(#soft)"});

  if (p.land) {
    const landShape = make("path", layer, {d:landPath, fill:p.land, "fill-rule":"evenodd"});
    
    
    const zones = make("g", layer, {"clip-path":"url(#land-clip-" + p.id + ")"});
    
    
    const bands = p.kind === "days" ? contourLevels : contourLevels.slice(0, 1);
    bands.forEach((level, i) => {
      const fill = p.kind === "days" ? daysBandColors[i] : "#ffffff";
      level.forEach(shape => {
        const band = make("path", zones, {d:poly(shape), fill:fill});
        
        
      });
    });
    dryPatches.forEach(shape => {
      const dry = make("path", zones, {d:poly(shape), fill:p.land});
      
      
    });
  }

  if (p.kind === "specks") {
    p.lons.forEach((lon, i) => {
      const s = make("rect", layer, {x:xOf(lon - 0.42), y:yOf(p.lats[i] + 0.42), width:xOf(0.84) - xOf(0), height:yOf(0) - yOf(0.84), fill:speckColor(p.vals[i])});
      
      
    });
  }

  const drawCell = (r, k, fill, name) => {
    const x0 = xOf(cellLon(k)), x1 = xOf(cellLon(k + 1));
    const y0 = yOf(cellLat(r)), y1 = yOf(cellLat(r + 1));
    const c = make("rect", layer, {x:x0, y:y0, width:x1 - x0 + 0.6, height:y1 - y0 + 0.6, fill:fill});
    
    
  };
  if (p.kind === "grid") {
    canesmDays.forEach((row, r) => row.forEach((v, k) => {
      if (v === null) return;
      drawCell(r, k, v === G ? "#cfcbc7" : daysColor(v), "grid-cell");
    }));
  }
  if (p.kind === "mask") {
    maskRowsCanesm.forEach((r, i) => drawCell(r, maskColsCanesm[i], "#c8c8c8", "mask-cell"));
    if (p.id === "f") drawCell(4, 28, "#c8c8c8", "mask-cell");
    p.rows.forEach((r, i) => drawCell(r, p.cols[i], coarseColor(p.vals[i]), "change-cell"));
  }

  const outlineD = [africaCoast, madagascarCoast, blackSea, caspianSea, eurasiaCoast].concat(smallIslands).map(poly).join("") + borderLines.map(line).join("");
  const outline = make("path", layer, {d:outlineD, fill:"none", stroke:"#000", "stroke-width":p.line, "stroke-linejoin":"round", "stroke-linecap":"round"});
  
  

  islandDotLons.forEach((lon, i) => {
    const dot = make("circle", layer, {cx:xOf(lon), cy:yOf(islandDotLats[i]), r:2.2, fill:"#000"});
    
    
  });

  const frame = make("rect", panel, {x:p.fw / 2, y:p.fw / 2, width:p.w - p.fw, height:p.h - p.fw, fill:"none", stroke:p.frame, "stroke-width":p.fw});
  
  
});

/* ---------- colour bars ---------- */
function drawBar(cfg) {
  const root = document.getElementById("bars");
  const g = make("g", root, {});
  
  
  const vTop = cfg.values[0], vBot = cfg.values[cfg.values.length - 1];
  const yOf = v => cfg.top + (vTop - v) / (vTop - vBot) * (cfg.bottom - cfg.top);
  cfg.colors.forEach((color, i) => {
    const y0 = yOf(cfg.values[i]), y1 = yOf(cfg.values[i + 1]);
    const band = make("rect", g, {x:cfg.left, y:y0, width:cfg.right - cfg.left, height:y1 - y0 + 0.4, fill:color});
    
    
  });
  const edge = make("path", g, {d:"M" + cfg.left + " " + cfg.top + "V" + cfg.bottom + "M" + cfg.right + " " + cfg.top + "V" + cfg.bottom, stroke:"#aaa", "stroke-width":1.6, fill:"none"});
  
  
  cfg.values.forEach((v, i) => {
    const y = yOf(v);
    if (i === 0 || i % 2 === cfg.tickPhase) {
      const mark = make("path", g, {d:"M" + cfg.left + " " + y + "h" + cfg.mark + "M" + cfg.right + " " + y + "h-" + cfg.mark, stroke:"#222", "stroke-width":1.3, fill:"none"});
      
      
    }
    const t = make("text", g, {class:"tick", "font-size":cfg.font, transform:"translate(" + cfg.labelX + "," + (y + cfg.font * 0.36 - 1) + ") scale(" + cfg.stretch + ",1)"});
    t.textContent = cfg.labels[i];
    
    
  });
  const unit = make("text", g, {class:"unit", "font-size":cfg.unitFont, transform:"translate(" + cfg.unitX + "," + cfg.unitY + ") scale(" + cfg.unitStretch + ",1)"});
  unit.textContent = "Days";
  
  
}
drawBar({name:"days-colorbar", values:daysTickValues, labels:daysTickLabels, colors:daysBandColors, left:689, right:753, top:186, bottom:1091, labelX:762, font:22, stretch:1.23, tickPhase:0, mark:10, unitX:690, unitY:170, unitFont:20, unitStretch:1.2});
drawBar({name:"change-colorbar", values:changeTickValues, labels:changeTickLabels, colors:changeBandColors, left:2393, right:2456, top:217, bottom:1103, labelX:2465, font:23, stretch:1.25, tickPhase:1, mark:12, unitX:2395, unitY:190, unitFont:27, unitStretch:1.23});
</script>
</body>
</html>
